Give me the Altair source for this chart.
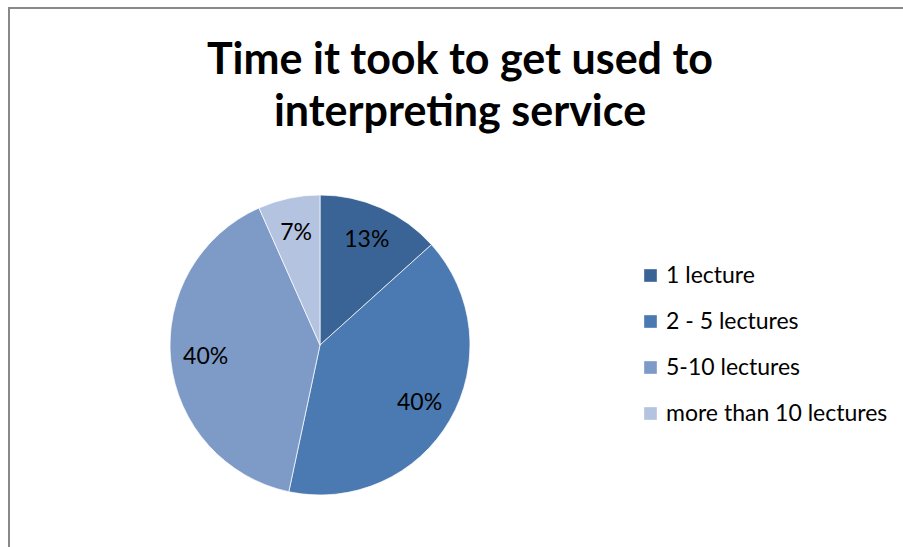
import altair as alt
import pandas as pd

categories = ["1 lecture", "2 - 5 lectures", "5-10 lectures", "more than 10 lectures"]
counts = [2, 6, 6, 1]
pct_labels = ["13%", "40%", "40%", "7%"]
colors = ["#3B6496", "#4A7AB1", "#7E9BC8", "#B4C3DF"]
title_lines = ["Time it took to get used to", "interpreting service"]

df = pd.DataFrame({
    "category": categories,
    "count": counts,
    "label": pct_labels,
    "order": list(range(len(categories))),
})

cx, cy = 311, 337
view_w, view_h = 894, 539

base = alt.Chart(df).encode(
    theta=alt.Theta("count:Q", stack=True),
    order=alt.Order("order:Q"),
)

arcs = base.mark_arc(outerRadius=150, stroke="#ffffff", strokeWidth=0.7).encode(
    color=alt.Color(
        "category:N",
        scale=alt.Scale(domain=categories, range=colors),
        legend=alt.Legend(
            title=None,
            orient="none",
            legendX=630,
            legendY=256,
            symbolType="square",
            symbolSize=160,
            symbolStrokeWidth=0,
            labelFont="Lato",
            labelFontSize=23,
            labelColor="#000000",
            labelOffset=4,
            labelLimit=0,
            rowPadding=22,
            padding=0,
        ),
    ),
    x=alt.value(cx),
    y=alt.value(cy),
)

text = base.mark_text(radius=115, font="Lato", fontSize=23, color="#000000").encode(
    text="label:N",
    x=alt.value(cx),
    y=alt.value(cy),
)

frame_src = alt.Chart(pd.DataFrame({"k": [0]}))
top_border = frame_src.mark_rule(color="#888888", strokeWidth=2).encode(
    x=alt.value(-1), x2=alt.value(view_w), y=alt.value(0)
)
left_border = frame_src.mark_rule(color="#888888", strokeWidth=2).encode(
    x=alt.value(0), y=alt.value(-1), y2=alt.value(view_h)
)

chart = (
    alt.layer(top_border, left_border, arcs, text)
    .properties(
        width=view_w,
        height=view_h,
        padding={"left": 9, "top": 8, "right": 0, "bottom": 0},
        autosize=alt.AutoSizeParams(type="none"),
        title=alt.Title(
            title_lines,
            font="Lato",
            fontSize=43,
            fontWeight="bold",
            color="#000000",
            anchor="middle",
            lineHeight=52,
            offset=-129,
            dx=460 - 9 - view_w / 2,
        ),
        background="#ffffff",
    )
    .configure_view(stroke=None)
)

chart.save("out.html", embed_options={"renderer": "svg", "actions": False})
